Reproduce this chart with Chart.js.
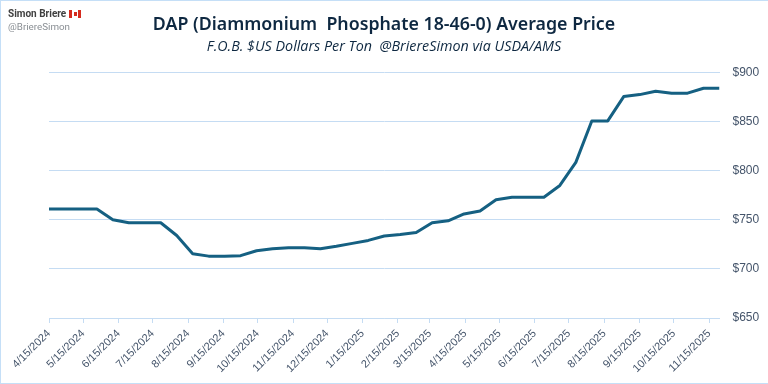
<!DOCTYPE html>
<html><head><meta charset="utf-8">
<style>
html,body{margin:0;padding:0;background:#fff;overflow:hidden}
#wrap{position:relative;width:768px;height:384px}
canvas{position:absolute;left:0;top:0}
#frame{position:absolute;left:0;top:0;width:768px;height:384px;box-sizing:border-box;border-left:1px solid #c5dff7;border-top:1px solid #c5dff7;border-bottom:1px solid #c5dff7;pointer-events:none}
#who{position:absolute;left:8px;top:8px;font:bold 10px/12px Roboto,sans-serif;color:#404040}
#handle{position:absolute;left:8px;top:21px;font:9.8px/12px Roboto,sans-serif;color:#8a8f94}
#flag{display:inline-block;vertical-align:-1px;width:12px;height:8px;margin-left:3px;background:linear-gradient(90deg,#d52b1e 0 25%,#fff 25% 75%,#d52b1e 75%);position:relative}
#flag i{position:absolute;left:4.5px;top:2px;width:3px;height:4px;background:#d52b1e}
</style></head><body>
<div id="wrap"><canvas id="c" width="768" height="384"></canvas>
<div id="frame"></div>
<div id="who">Simon Briere<span id="flag"><i></i></span></div><div id="handle">@BriereSimon</div></div>
<script src="https://cdn.jsdelivr.net/npm/chart.js@4"></script>
<script>
const titleText = "DAP (Diammonium  Phosphate 18-46-0) Average Price";
const subtitleText = "F.O.B. $US Dollars Per Ton  @BriereSimon via USDA/AMS";
const seriesName = "DAP";
const startDate = "2024-04-15";
const stepDays = 14;
const prices = [761,761,761,761,750,747,747,747,734,715.5,713,713,713.5,718.5,720.5,721.5,721.5,720.5,723,726,729,733.5,735,737,747,749,756,759,770.5,773,773,773,785,808.5,850.7,850.7,875.5,877.5,881,879,879,884,884];
const tickDates = ["4/15/2024","5/15/2024","6/15/2024","7/15/2024","8/15/2024","9/15/2024","10/15/2024","11/15/2024","12/15/2024","1/15/2025","2/15/2025","3/15/2025","4/15/2025","5/15/2025","6/15/2025","7/15/2025","8/15/2025","9/15/2025","10/15/2025","11/15/2025"];
const yTicks = [650,700,750,800,850,900];

const DAY = 86400000;
const t0 = Date.parse(startDate + "T00:00:00Z");
const toDays = s => { const [m,d,y] = s.split("/").map(Number); return (Date.UTC(y,m-1,d)-t0)/DAY; };
const labelByDay = new Map(tickDates.map(s => [toDays(s), s]));
const points = prices.map((v,i) => ({x:i*stepDays, y:v}));
const gridBlue = "#c5dcf3";

new Chart(document.getElementById("c"), {
  type: "line",
  data: { datasets: [{ label: seriesName, data: points, yAxisID: "y", borderColor: "#156082", borderWidth: 3, pointRadius: 0, tension: 0, borderCapStyle: "butt", borderJoinStyle: "round" }] },
  options: {
    responsive: false, animation: false, devicePixelRatio: 1,
    plugins: {
      legend: { display: false }, tooltip: { enabled: false },
      title: { display: true, text: titleText, color: "#0e2841", font: { family: "'Noto Sans'", size: 17.8, weight: "600" }, padding: { top: 14, bottom: 3 } },
      subtitle: { display: true, text: subtitleText, color: "#0e2841", font: { family: "'Open Sans'", size: 14.3, style: "italic" }, padding: { top: 0, bottom: 17 } }
    },
    scales: {
      x: {
        type: "linear", min: 0, max: (prices.length-1)*stepDays,
        afterBuildTicks: a => { a.ticks = tickDates.map(s => ({ value: toDays(s) })); },
        afterFit: a => { a.paddingLeft = 0; a.paddingRight = 0; a.height = 66; },
        grid: { drawOnChartArea: false, drawTicks: true, tickLength: 5, color: gridBlue },
        border: { color: gridBlue, width: 1 },
        ticks: { autoSkip: false, maxRotation: 45, minRotation: 45, padding: 4, color: "#44546a", font: { family: "'Liberation Sans'", size: 11 }, callback: v => labelByDay.get(v) ?? "" }
      },
      y: {
        position: "right", min: 650, max: 900,
        afterBuildTicks: a => { a.ticks = yTicks.map(v => ({ value: v })); },
        afterFit: a => { a.width = 48.5; },
        grid: { color: gridBlue, drawTicks: false, lineWidth: 1 },
        border: { display: false },
        ticks: { padding: 13, color: "#44546a", font: { family: "'Liberation Sans'", size: 12 }, callback: v => "$" + v }
      },
      spacer: {
        position: "left", min: 650, max: 900,
        afterFit: a => { a.width = 49; },
        grid: { display: false }, border: { display: false },
        ticks: { display: false }
      }
    }
  }
});
</script></body></html>
